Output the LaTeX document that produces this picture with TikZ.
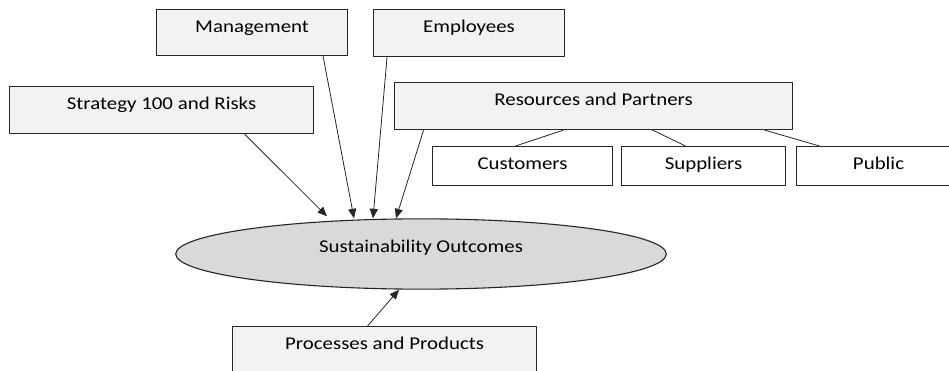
\documentclass[tikz,border=0pt]{standalone}
\usepackage{fontspec}
\setmainfont{Carlito}[FakeStretch=1.16]
\usetikzlibrary{calc}
\usetikzlibrary{arrows.meta}
\usetikzlibrary{shapes.geometric}
\definecolor{boxgrey}{HTML}{F2F2F2}
\definecolor{ovalgrey}{HTML}{D9D9D9}
\definecolor{edgegrey}{HTML}{262626}

\begin{document}
\begin{tikzpicture}[x=1pt,y=-1pt,>={Triangle[length=9.5pt,width=8pt]},
                font=\fontsize{18}{20}\selectfont,
                greybox/.style={draw=edgegrey,line width=1.1pt,fill=boxgrey,anchor=north west,
                    inner xsep=0pt,inner ysep=10pt,text height=13pt,text depth=#1},
                greybox/.default=14pt,
                whitebox/.style={greybox=#1,fill=white},
                whitebox/.default=6.3pt,
                link/.style={draw=edgegrey,line width=0.8pt}]
                \useasboundingbox (0,0) rectangle (949,371);
                \clip (0,0) rectangle (949,371);
                % boxes
                \node[greybox=13pt,minimum width=191pt] (mgmt) at (156,9) {Management};
                \node[greybox,minimum width=191pt] (empl) at (373,9) {Employees};
                \node[greybox,minimum width=304pt] (strat) at (9,86) {Strategy 100 and Risks};
                \node[greybox,minimum width=398pt] (res) at (394,82) {Resources and Partners};
                \node[whitebox,minimum width=180pt] (cust) at (432,146) {Customers};
                \node[whitebox,minimum width=164pt] (supp) at (621,146) {Suppliers};
                \node[whitebox,minimum width=164pt] (pub) at (796,146) {Public};
                \node[greybox=27pt,minimum width=304pt] (proc) at (232,326) {Processes and Products};
                \node[ellipse,draw=edgegrey,line width=1.1pt,fill=ovalgrey,minimum width=490.6pt,
                    minimum height=70.3pt,inner sep=0pt,text height=13pt,text depth=16.4pt]
                    (outc) at (421,254) {Sustainability Outcomes};
                % arrows into the outcomes
                \draw[link,->] ($(strat.south)+(83,0)$) -- ($(outc.north)+(-94,-2)$);
                \draw[link,->] ($(mgmt.south)+(71,0)$) -- ($(outc.north)+(-67,0)$);
                \draw[link,->] ($(empl.south)+(-82,0)$) -- ($(outc.north)+(-48,0)$);
                \draw[link,->] ($(res.south)+(-170,0)$) -- ($(outc.north)+(-25,0)$);
                \draw[link,->] ($(proc.north)+(-17,0)$) -- ($(outc.south)+(-22,0)$);
                % partners
                \draw[link] ($(res.south)+(-30,0)$) -- ($(cust.north)+(-7,0)$);
                \draw[link] ($(res.south)+(59,0)$) -- ($(supp.north)+(-18,0)$);
                \draw[link] ($(res.south)+(171,0)$) -- ($(pub.north)+(-59,0)$);
\end{tikzpicture}
\end{document}
